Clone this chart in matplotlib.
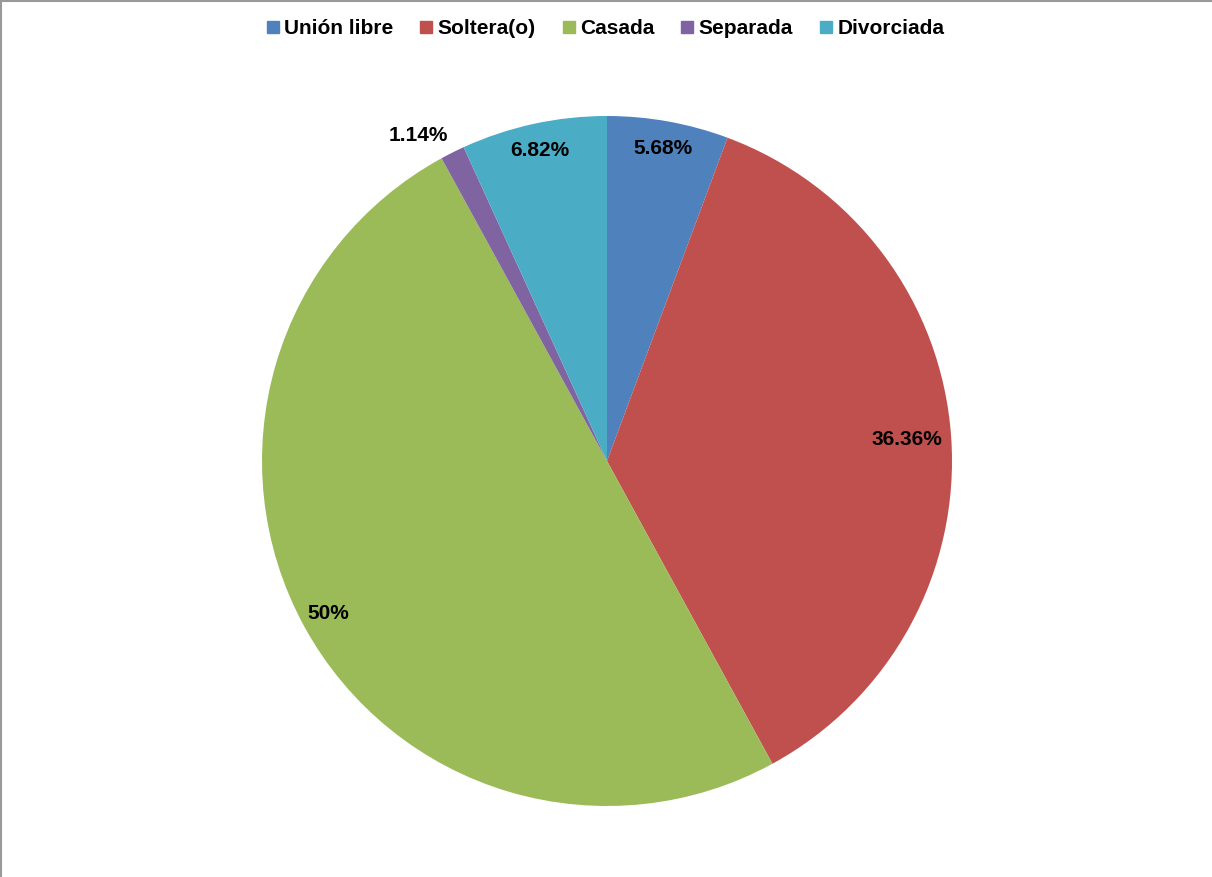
import numpy as np
import matplotlib.pyplot as plt
from matplotlib.lines import Line2D

plt.rcParams['font.family'] = ['Liberation Sans', 'DejaVu Sans']

categories = ['Unión libre', 'Soltera(o)', 'Casada', 'Separada', 'Divorciada']
values = [5.68, 36.36, 50.0, 1.14, 6.82]
labels = ['5.68%', '36.36%', '50%', '1.14%', '6.82%']
colors = ['#4F81BD', '#C0504D', '#9BBB59', '#8064A2', '#4BACC6']

fig = plt.figure(figsize=(12.12, 8.77), dpi=100)

# pie axes centred on the plot area
cx, cy, r = 607 / 1212, 1 - 461 / 877, 345
w, h = 2 * r / 1212, 2 * r / 877
ax = fig.add_axes([cx - w / 2, cy - h / 2, w, h])
wedges, _ = ax.pie(values, colors=colors, startangle=90, counterclock=False,
                   radius=1.0, wedgeprops=dict(linewidth=0))
ax.set_xlim(-1, 1)
ax.set_ylim(-1, 1)
ax.set_aspect('equal')
ax.axis('off')

# data labels: inside near the rim, small slice outside (nudged left)
dist = [0.92, 0.87, 0.92, 1.09, 0.92]
nudge = [0, 0, 0, 3.5, 0]
for wdg, lab, d, dn in zip(wedges, labels, dist, nudge):
    ang = np.deg2rad((wdg.theta1 + wdg.theta2) / 2 + dn)
    ax.text(d * np.cos(ang), d * np.sin(ang), lab, ha='center', va='center',
            fontsize=15, fontweight='bold', color='black')

handles = [Line2D([], [], marker='s', linestyle='none', markersize=8,
                  markerfacecolor=c, markeredgecolor=c) for c in colors]
fig.legend(handles, categories, loc='center', bbox_to_anchor=(0.5, 1 - 29 / 877),
           ncol=5, frameon=False, handlelength=0.5, handletextpad=0.3,
           columnspacing=1.32, prop=dict(size=15, weight='bold'))

# chart frame (top and left edges visible)
fig.add_artist(Line2D([0, 1], [0.9992, 0.9992], color='#999999', linewidth=1.5,
                      transform=fig.transFigure))
fig.add_artist(Line2D([0.0008, 0.0008], [0, 1], color='#999999', linewidth=1.5,
                      transform=fig.transFigure))

fig.savefig('out.png', dpi=100, facecolor='white')
